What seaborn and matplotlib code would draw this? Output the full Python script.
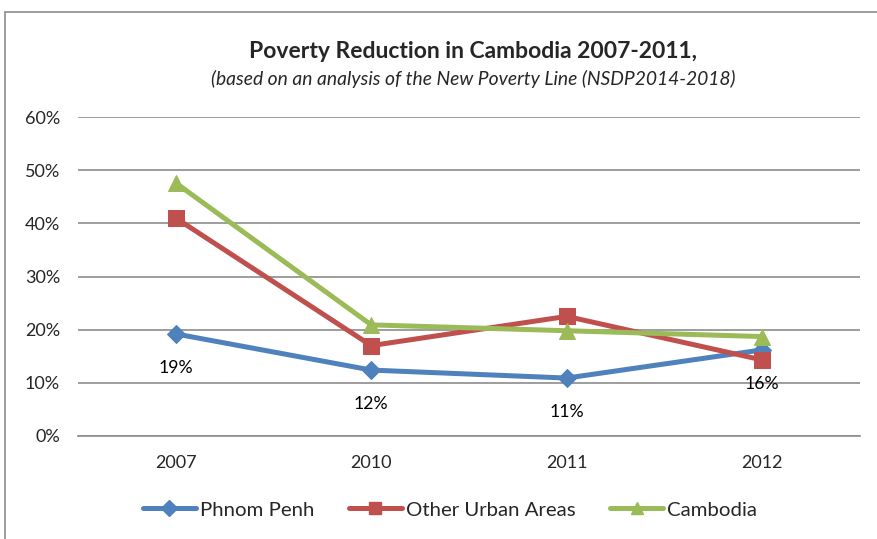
import matplotlib
matplotlib.use("Agg")
import matplotlib.pyplot as plt
import seaborn as sns
import pandas as pd
from matplotlib.lines import Line2D

years = ["2007", "2010", "2011", "2012"]
phnom_penh = [19.2, 12.4, 10.9, 16.2]
other_urban = [41.0, 17.0, 22.5, 14.3]
cambodia = [47.6, 20.9, 19.8, 18.7]
pp_labels = ["19%", "12%", "11%", "16%"]
y_ticks = [0, 10, 20, 30, 40, 50, 60]

series_names = ["Phnom Penh", "Other Urban Areas", "Cambodia"]
colors = {"Phnom Penh": "#4F81BD", "Other Urban Areas": "#C0504D", "Cambodia": "#9BBB59"}
markers = {"Phnom Penh": "D", "Other Urban Areas": "s", "Cambodia": "^"}
msize = {"Phnom Penh": 9, "Other Urban Areas": 11, "Cambodia": 12}

rows = []
for name, vals in zip(series_names, [phnom_penh, other_urban, cambodia]):
    for i, (yr, v) in enumerate(zip(years, vals)):
        rows.append({"year": yr, "idx": i, "value": v, "series": name})
df = pd.DataFrame(rows)

sns.set_theme(style="white")
plt.rcParams["font.family"] = ["Lato", "DejaVu Sans"]

fig = plt.figure(figsize=(8.77, 5.39), dpi=100)
ax = fig.add_axes([78 / 877, 1 - 436 / 539, (860 - 78) / 877, (436 - 117) / 539])

for name in series_names:
    sub = df[df["series"] == name]
    sns.lineplot(data=sub, x="idx", y="value", ax=ax, color=colors[name],
                 marker=markers[name], markersize=msize[name], linewidth=3.6,
                 markeredgecolor=colors[name], legend=False, zorder=3)

for i, (v, lab) in enumerate(zip(phnom_penh, pp_labels)):
    ax.annotate(lab, (i, v), xytext=(0, -24.5), textcoords="offset points",
                ha="center", va="center", fontsize=12.7, color="#000000", zorder=5)

ax.set_xlim(-0.5, 3.5)
ax.set_ylim(0, 60)
ax.set_xticks(range(len(years)))
ax.set_xticklabels(years, fontsize=13)
ax.set_yticks(y_ticks)
ax.set_yticklabels([f"{t}%" for t in y_ticks], fontsize=13)
ax.yaxis.grid(True, color="#8C8C8C", linewidth=1.2)
ax.set_axisbelow(True)
for s in ["top", "right", "left"]:
    ax.spines[s].set_visible(False)
ax.spines["bottom"].set_color("#8C8C8C")
ax.spines["bottom"].set_linewidth(1.2)
ax.tick_params(axis="x", length=0, pad=14)
ax.tick_params(axis="y", length=0, pad=13)
ax.set_xlabel("")
ax.set_ylabel("")

fig.text(473 / 877, 1 - 52 / 539, "Poverty Reduction in Cambodia 2007-2011,", ha="center", va="center",
         fontsize=16.5, fontweight="bold")
fig.text(473 / 877, 1 - 79 / 539, "(based on an analysis of the New Poverty Line (NSDP2014-2018)", ha="center",
         va="center", fontsize=13.9, style="italic")

handles = [Line2D([0], [0], color=colors[n], marker=markers[n], markersize=8,
                  linewidth=3.6, markeredgecolor=colors[n]) for n in series_names]
fig.legend(handles, series_names, loc="center", bbox_to_anchor=(450 / 877, 1 - 510 / 539), ncol=3,
           frameon=False, fontsize=14.7, handlelength=2.6, handletextpad=0.2, columnspacing=1.7)

# chart frame
fig.add_artist(Line2D([5 / 877, 5 / 877], [0, 1 - 12 / 539], transform=fig.transFigure,
                      color="#8C8C8C", linewidth=1.2))
fig.add_artist(Line2D([5 / 877, 1], [1 - 12 / 539, 1 - 12 / 539], transform=fig.transFigure,
                      color="#8C8C8C", linewidth=1.2))

fig.savefig("out.png", dpi=100)
